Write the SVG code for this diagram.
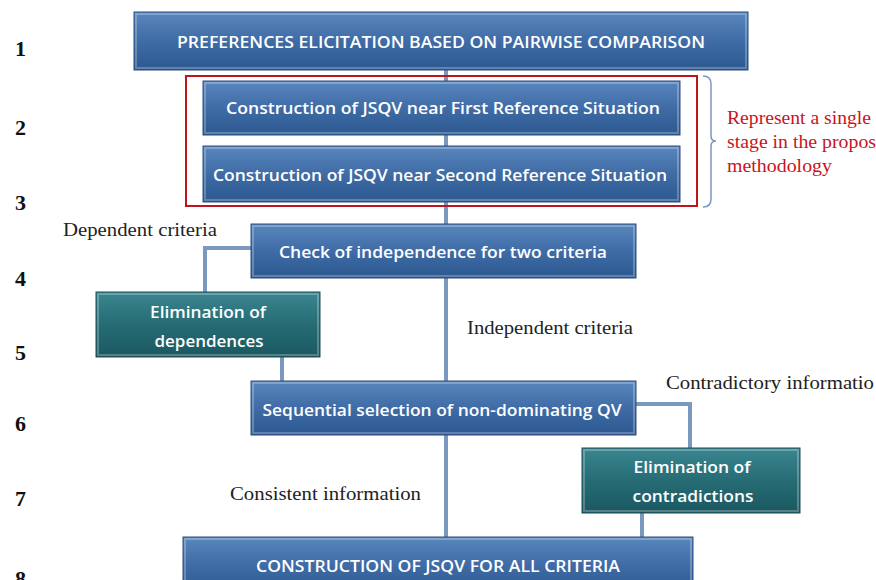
<svg xmlns="http://www.w3.org/2000/svg" width="876" height="580" viewBox="0 0 876 580">
<defs>
<linearGradient id="gb" x1="0" y1="0" x2="0" y2="1">
<stop offset="0" stop-color="#5a86bd"/>
<stop offset="0.5" stop-color="#3f6ca6"/>
<stop offset="1" stop-color="#2d5890"/>
</linearGradient>
<linearGradient id="gt" x1="0" y1="0" x2="0" y2="1">
<stop offset="0" stop-color="#3a8690"/>
<stop offset="0.5" stop-color="#266c75"/>
<stop offset="1" stop-color="#1b5860"/>
</linearGradient>
<style>
.b{fill:url(#gb);stroke:#2a4f80;stroke-width:1}
.t{fill:url(#gt);stroke:#1a4f56;stroke-width:1}
.hl{fill:none;stroke:#ffffff;stroke-opacity:0.25;stroke-width:2}
.bt{font-family:"Open Sans","Noto Sans",sans-serif;font-size:17px;fill:#ffffff;text-anchor:middle;font-weight:600}
.sr{font-family:"Liberation Serif",serif;font-size:18px;fill:#222222}
.rd{font-family:"Liberation Serif",serif;font-size:19px;fill:#c8141e}
.num{font-family:"Liberation Serif",serif;font-size:22px;font-weight:bold;fill:#111111}
.cn{fill:none;stroke:#7b98be;stroke-width:4}
</style>
</defs>
<g id="connectors">
<line class="cn" x1="446" y1="70" x2="446" y2="537"/>
<polyline class="cn" points="251,248 205,248 205,292"/>
<line class="cn" x1="282" y1="357" x2="282" y2="381"/>
<polyline class="cn" points="636,404 690,404 690,448"/>
<line class="cn" x1="642" y1="513" x2="642" y2="537"/>
</g>
<g id="numbers">
<text class="num" x="15" y="56">1</text>
<text class="num" x="15" y="135">2</text>
<text class="num" x="15" y="210">3</text>
<text class="num" x="15" y="286">4</text>
<text class="num" x="15" y="360">5</text>
<text class="num" x="15" y="431">6</text>
<text class="num" x="15" y="506">7</text>
<text class="num" x="15" y="586">8</text>
</g>
<g id="n1">
<rect class="b" x="134" y="12" width="614" height="58"/>
<rect class="hl" x="136" y="14" width="610" height="54"/>
<text class="bt" x="441" y="48" textLength="528" lengthAdjust="spacingAndGlyphs">PREFERENCES ELICITATION BASED ON PAIRWISE COMPARISON</text>
</g>
<g id="stage-group">
<rect x="186" y="76" width="511" height="130" fill="none" stroke="#c0141c" stroke-width="2"/>
<path d="M703,76 Q711,76 711,84 L711,136 Q711,141 716,141 Q711,141 711,146 L711,199 Q711,207 703,207" fill="none" stroke="#7b98be" stroke-width="1.5"/>
<text class="rd" x="727" y="124" textLength="144" lengthAdjust="spacingAndGlyphs">Represent a single</text>
<text class="rd" x="727" y="148" textLength="149" lengthAdjust="spacingAndGlyphs">stage in the propos</text>
<text class="rd" x="727" y="172" textLength="105" lengthAdjust="spacingAndGlyphs">methodology</text>
</g>
<g id="n2">
<rect class="b" x="203" y="81" width="477" height="54"/>
<rect class="hl" x="205" y="83" width="473" height="50"/>
<text class="bt" x="443" y="114" textLength="434" lengthAdjust="spacingAndGlyphs">Construction of JSQV near First Reference Situation</text>
</g>
<g id="n3">
<rect class="b" x="203" y="146" width="477" height="56"/>
<rect class="hl" x="205" y="148" width="473" height="52"/>
<text class="bt" x="440" y="181" textLength="454" lengthAdjust="spacingAndGlyphs">Construction of JSQV near Second Reference Situation</text>
</g>
<g id="n4">
<rect class="b" x="251" y="224" width="385" height="54"/>
<rect class="hl" x="253" y="226" width="381" height="50"/>
<text class="bt" x="443" y="258" textLength="328" lengthAdjust="spacingAndGlyphs">Check of independence for two criteria</text>
</g>
<text class="sr" x="63" y="236" textLength="154" lengthAdjust="spacingAndGlyphs">Dependent criteria</text>
<g id="n5">
<rect class="t" x="96" y="292" width="224" height="65"/>
<rect class="hl" x="98" y="294" width="220" height="61"/>
<text class="bt" x="208" y="318" textLength="116" lengthAdjust="spacingAndGlyphs">Elimination of</text>
<text class="bt" x="209" y="347" textLength="109" lengthAdjust="spacingAndGlyphs">dependences</text>
</g>
<text class="sr" x="467" y="334" textLength="166" lengthAdjust="spacingAndGlyphs">Independent criteria</text>
<g id="n6">
<rect class="b" x="251" y="381" width="385" height="54"/>
<rect class="hl" x="253" y="383" width="381" height="50"/>
<text class="bt" x="442" y="416" textLength="359" lengthAdjust="spacingAndGlyphs">Sequential selection of non-dominating QV</text>
</g>
<text class="sr" x="666" y="389" textLength="208" lengthAdjust="spacingAndGlyphs">Contradictory informatio</text>
<g id="n7">
<rect class="t" x="582" y="448" width="218" height="65"/>
<rect class="hl" x="584" y="450" width="214" height="61"/>
<text class="bt" x="692" y="473" textLength="117" lengthAdjust="spacingAndGlyphs">Elimination of</text>
<text class="bt" x="693" y="502" textLength="121" lengthAdjust="spacingAndGlyphs">contradictions</text>
</g>
<text class="sr" x="230" y="500" textLength="191" lengthAdjust="spacingAndGlyphs">Consistent information</text>
<g id="n8">
<rect class="b" x="183" y="537" width="510" height="56"/>
<rect class="hl" x="185" y="539" width="506" height="52"/>
<text class="bt" x="438" y="572" textLength="364" lengthAdjust="spacingAndGlyphs">CONSTRUCTION OF JSQV FOR ALL CRITERIA</text>
</g>
</svg>
